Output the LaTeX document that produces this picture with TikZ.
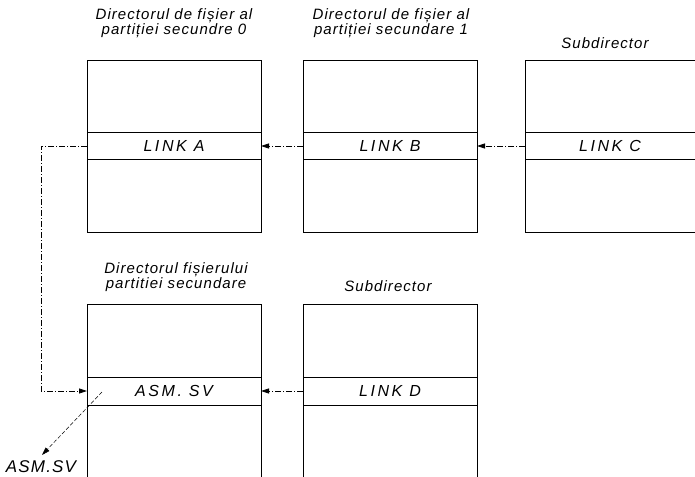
\documentclass[tikz,border=0pt]{standalone}
\usepackage{fontspec}
\setmainfont{Liberation Sans}
\newfontfamily\titlefont[LetterSpace=7]{Liberation Sans}
\newfontfamily\linkfont[LetterSpace=16]{Liberation Sans}
\usetikzlibrary{arrows.meta}
\begin{document}
\begin{tikzpicture}[x=1pt,y=-1pt,
  box/.style={draw,line width=0.9pt,minimum width=174pt,inner sep=0pt,outer sep=0pt},
  linkrow/.style={draw,line width=0.9pt,minimum width=174pt,minimum height=27pt,inner sep=0pt,outer sep=0pt,font=\linkfont\itshape\fontsize{16}{16}\selectfont},
  title/.style={align=center,inner sep=0pt,font=\titlefont\itshape\fontsize{15}{14}\selectfont},
  conn/.style={line width=0.8pt,dash pattern=on 6pt off 2pt on 1pt off 2pt,-{Triangle[length=8pt,width=5pt]}}]
\useasboundingbox (0,0) rectangle (695,476);
\clip (0,0) rectangle (695,476);
% upper row
\node[box,minimum height=172pt] (A) at (174,146) {};
\node[box,minimum height=172pt] (B) at (390,146) {};
\node[box,minimum height=172pt,minimum width=176pt] (C) at (613,146) {};
\node[linkrow] (la) at (174,146) {LINK A};
\node[linkrow] (lb) at (390,146) {LINK B};
\node[linkrow,minimum width=176pt] (lc) at (613,146) {\hspace*{-6pt}LINK C};
\node[title] (ta) at (174,23) {Directorul de fișier al\\partiției secundre 0};
\node[title] (tb) at (391,23) {Directorul de fișier al\\partiției secundare 1};
\node[title] (tc) at (605,43) {Subdirector};
% lower row
\node[box,minimum height=180pt] (E) at (174,394) {};
\node[box,minimum height=180pt] (D) at (390,394) {};
\node[linkrow,minimum height=28pt] (le) at (174,391) {ASM.\ SV};
\node[linkrow,minimum height=28pt] (ld) at (390,391) {LINK D};
\node[title] (te) at (176,277) {Directorul fișierului\\partitiei secundare};
\node[title] (td) at (388,286) {Subdirector};
\node[title,anchor=base,font=\titlefont\itshape\fontsize{17}{17}\selectfont] (sv) at (41,472) {ASM.SV};
\coordinate (svs) at (102,392);
\coordinate (sve) at (42,455);
% connectors
\draw[conn] (lb.west) -- (la.east);
\draw[conn] (lc.west) -- (lb.east);
\draw[conn] (ld.west) -- (le.east);
\draw[conn] (la.west) -- ++(-46,0) |- (le.west);
\draw[line width=0.5pt,dash pattern=on 4pt off 2pt,-{Triangle[length=8pt,width=5pt]}] (svs) -- (sve);
\end{tikzpicture}
\end{document}
